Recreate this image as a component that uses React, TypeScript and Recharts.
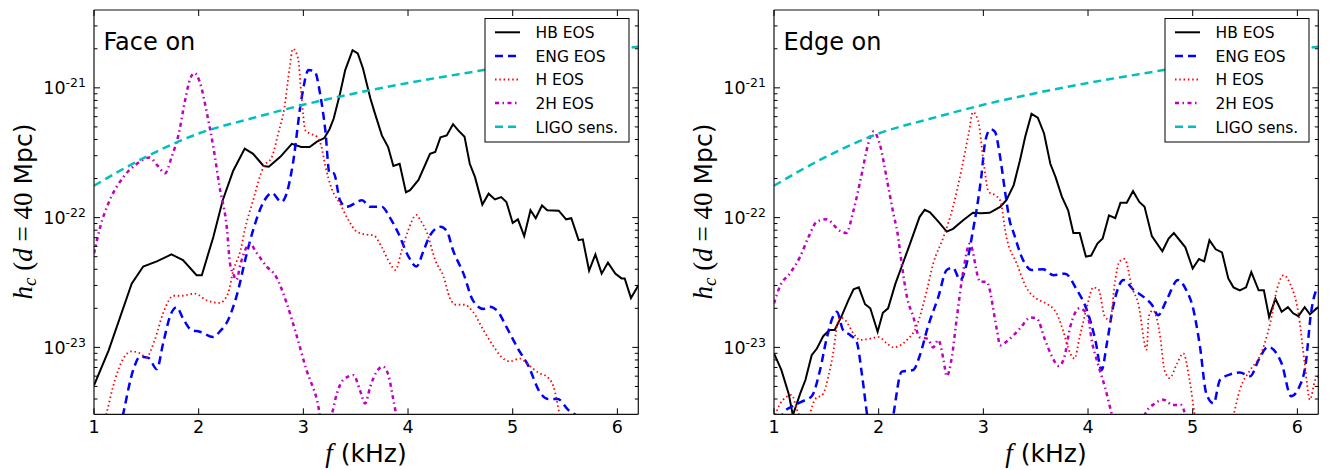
import React from 'react';
import { LineChart, Line, XAxis, YAxis } from 'recharts';

// frequency in kHz, characteristic strain h_c at d = 40 Mpc
const xTicks = [1, 2, 3, 4, 5, 6];
const yMajor = [1e-23, 1e-22, 1e-21];
const yDomain: [number, number] = [3.05e-24, 3.98e-21];

const ligoSens = [
  [1.0, 1.76e-22], [1.5, 2.95e-22], [2.0, 4.45e-22], [2.5, 5.8e-22], [3.0, 7.4e-22],
  [3.5, 9.1e-22], [4.0, 1.09e-21], [4.5, 1.28e-21], [5.0, 1.49e-21], [5.5, 1.72e-21],
  [6.0, 1.98e-21], [6.2, 2.08e-21],
];

const faceHB = [
  [1.0, 5.1e-24], [1.14, 9.5e-24], [1.36, 3.1e-23], [1.47, 4.2e-23], [1.6, 4.6e-23],
  [1.74, 5.2e-23], [1.85, 4.7e-23], [1.98, 3.6e-23], [2.03, 3.6e-23], [2.14, 7.1e-23],
  [2.23, 1.36e-22], [2.33, 2.3e-22], [2.44, 3.4e-22], [2.52, 3.1e-22], [2.62, 2.5e-22],
  [2.67, 2.47e-22], [2.78, 2.94e-22], [2.89, 3.7e-22], [2.98, 3.5e-22], [3.06, 3.5e-22],
  [3.13, 3.85e-22], [3.2, 4.1e-22], [3.25, 4.8e-22], [3.29, 5.8e-22], [3.35, 9.0e-22],
  [3.4, 1.37e-21], [3.47, 1.95e-21], [3.52, 1.84e-21], [3.57, 1.41e-21], [3.64, 8.3e-22],
  [3.68, 6.5e-22], [3.75, 4.3e-22], [3.81, 3.5e-22], [3.86, 2.5e-22], [3.92, 2.6e-22],
  [3.98, 1.57e-22], [4.02, 1.63e-22], [4.1, 1.95e-22], [4.21, 3.1e-22], [4.26, 3.2e-22],
  [4.31, 4.15e-22], [4.37, 4.3e-22], [4.43, 5.25e-22], [4.48, 4.7e-22], [4.54, 4.2e-22],
  [4.59, 2.6e-22], [4.64, 2.05e-22], [4.71, 1.26e-22], [4.77, 1.53e-22], [4.83, 1.38e-22],
  [4.89, 1.44e-22], [4.94, 1.32e-22], [5.0, 9.1e-23], [5.05, 9.7e-23], [5.11, 7.2e-23],
  [5.17, 1.14e-22], [5.22, 9.9e-23], [5.28, 1.24e-22], [5.33, 1.14e-22], [5.44, 1.13e-22],
  [5.51, 9.7e-23], [5.56, 9.9e-23], [5.63, 6.7e-23], [5.67, 6.8e-23], [5.73, 3.9e-23],
  [5.79, 5.2e-23], [5.85, 3.7e-23], [5.91, 4.5e-23], [5.98, 3.7e-23], [6.04, 3.4e-23],
  [6.07, 3.4e-23], [6.13, 2.4e-23], [6.2, 3.0e-23],
];

const faceENG = [
  [1.2, 1.5e-24], [1.28, 3.1e-24], [1.375, 6.7e-24], [1.44, 8.5e-24], [1.52, 8.3e-24],
  [1.6, 6.8e-24], [1.66, 1.07e-23], [1.73, 1.77e-23], [1.79, 2.04e-23], [1.85, 1.67e-23],
  [1.93, 1.36e-23], [2.01, 1.32e-23], [2.14, 1.2e-23], [2.2, 1.32e-23], [2.28, 1.62e-23],
  [2.36, 2.45e-23], [2.46, 5.3e-23], [2.52, 8.0e-23], [2.62, 1.32e-22], [2.7, 1.55e-22],
  [2.79, 1.32e-22], [2.84, 1.53e-22], [2.9, 2.6e-22], [2.98, 8.0e-22], [3.05, 1.37e-21],
  [3.11, 1.33e-21], [3.16, 9.0e-22], [3.21, 4.7e-22], [3.25, 2.2e-22], [3.29, 2.2e-22],
  [3.35, 1.36e-22], [3.41, 1.21e-22], [3.56, 1.36e-22], [3.64, 1.21e-22], [3.75, 1.21e-22],
  [3.83, 9.9e-23], [3.91, 7.5e-23], [4.0, 5.1e-23], [4.08, 4.2e-23], [4.15, 5.6e-23],
  [4.21, 7.3e-23], [4.31, 8.5e-23], [4.37, 7.9e-23], [4.43, 5.6e-23], [4.53, 3.7e-23],
  [4.62, 2.3e-23], [4.72, 1.98e-23], [4.78, 2.06e-23], [4.86, 1.88e-23], [4.94, 1.44e-23],
  [5.05, 9.8e-24], [5.15, 7.2e-24], [5.26, 4.5e-24], [5.34, 4.0e-24], [5.43, 4.0e-24],
  [5.53, 3.3e-24], [5.63, 2.9e-24], [5.8, 2.0e-24],
];

const faceH = [
  [1.05, 1.8e-24], [1.12, 3.1e-24], [1.2, 5.6e-24], [1.28, 8.2e-24], [1.36, 9.3e-24],
  [1.44, 9.0e-24], [1.5, 8.4e-24], [1.58, 1.14e-23], [1.66, 1.83e-23], [1.76, 2.5e-23],
  [1.84, 2.5e-23], [1.96, 2.6e-23], [2.08, 2.3e-23], [2.2, 2.2e-23], [2.28, 2.6e-23],
  [2.33, 3.9e-23], [2.4, 5.6e-23], [2.44, 8.0e-23], [2.52, 1.36e-22], [2.62, 2.47e-22],
  [2.7, 2.94e-22], [2.76, 4.45e-22], [2.82, 7.1e-22], [2.87, 1.45e-21], [2.9, 2.0e-21],
  [2.95, 1.68e-21], [2.98, 9.0e-22], [3.02, 4.7e-22], [3.06, 4.45e-22], [3.13, 4.2e-22],
  [3.17, 3.6e-22], [3.21, 2.5e-22], [3.27, 1.68e-22], [3.35, 1.28e-22], [3.43, 9.6e-23],
  [3.51, 7.8e-23], [3.6, 7.4e-23], [3.67, 7.3e-23], [3.75, 5.9e-23], [3.83, 4.4e-23],
  [3.88, 3.95e-23], [3.94, 5.6e-23], [4.0, 7.9e-23], [4.08, 1.05e-22], [4.12, 9.5e-23],
  [4.18, 7.7e-23], [4.26, 4.7e-23], [4.34, 3.5e-23], [4.4, 2.4e-23], [4.46, 2.13e-23],
  [4.54, 2.13e-23], [4.62, 1.88e-23], [4.72, 1.36e-23], [4.81, 1.04e-23], [4.89, 8.5e-24],
  [4.97, 7.8e-24], [5.07, 8.2e-24], [5.16, 7.2e-24], [5.26, 6.3e-24], [5.32, 6.0e-24],
  [5.39, 5.0e-24], [5.45, 3.0e-24], [5.55, 1.5e-24],
];

const face2H = [
  [1.0, 5.3e-23], [1.06, 8.5e-23], [1.15, 1.36e-22], [1.28, 2.05e-22], [1.41, 2.6e-22],
  [1.53, 2.9e-22], [1.61, 2.5e-22], [1.68, 2.2e-22], [1.74, 2.9e-22], [1.81, 4.45e-22],
  [1.87, 8.0e-22], [1.92, 1.18e-21], [1.96, 1.3e-21], [2.01, 1.11e-21], [2.08, 6.3e-22],
  [2.14, 3.5e-22], [2.2, 1.72e-22], [2.27, 8.2e-23], [2.3, 4.4e-23], [2.33, 3.7e-23],
  [2.36, 3.3e-23], [2.4, 4.4e-23], [2.49, 6.3e-23], [2.55, 5.4e-23], [2.65, 4.2e-23],
  [2.74, 3.5e-23], [2.84, 2.2e-23], [2.94, 1.2e-23], [3.03, 6.7e-24], [3.13, 3.95e-24],
  [3.2, 2.2e-24], [3.27, 3.0e-24], [3.32, 4.4e-24], [3.38, 5.6e-24], [3.48, 6.1e-24],
  [3.54, 4.7e-24], [3.59, 3.7e-24], [3.64, 5.0e-24], [3.7, 6.5e-24], [3.76, 7.1e-24],
  [3.81, 6.2e-24], [3.86, 3.95e-24], [3.95, 1.5e-24],
];

const edgeHB = [
  [1.0, 9.0e-24], [1.07, 6.7e-24], [1.14, 4.4e-24], [1.18, 3.0e-24], [1.25, 4.4e-24],
  [1.3, 5.6e-24], [1.36, 8.7e-24], [1.41, 9.8e-24], [1.47, 1.22e-23], [1.53, 1.36e-23],
  [1.58, 1.36e-23], [1.65, 1.77e-23], [1.71, 2.3e-23], [1.76, 2.8e-23], [1.81, 2.9e-23],
  [1.87, 2.15e-23], [1.92, 2.0e-23], [1.99, 1.32e-23], [2.04, 1.85e-23], [2.09, 2.0e-23],
  [2.16, 3.1e-23], [2.22, 4.2e-23], [2.3, 6.3e-23], [2.39, 1.01e-22], [2.44, 1.15e-22],
  [2.49, 1.1e-22], [2.57, 9.3e-23], [2.65, 7.8e-23], [2.71, 8.2e-23], [2.81, 9.6e-23],
  [2.9, 1.09e-22], [2.98, 1.08e-22], [3.06, 1.09e-22], [3.16, 1.21e-22], [3.22, 1.36e-22],
  [3.29, 1.78e-22], [3.35, 2.77e-22], [3.4, 4.2e-22], [3.46, 6.3e-22], [3.52, 5.9e-22],
  [3.58, 4.45e-22], [3.64, 2.6e-22], [3.69, 2.05e-22], [3.75, 1.45e-22], [3.81, 1.14e-22],
  [3.86, 7.6e-23], [3.92, 7.6e-23], [3.98, 5.0e-23], [4.03, 5.1e-23], [4.09, 6.3e-23],
  [4.14, 6.9e-23], [4.2, 1.04e-22], [4.26, 9.9e-23], [4.31, 1.3e-22], [4.37, 1.3e-22],
  [4.43, 1.6e-22], [4.49, 1.32e-22], [4.54, 1.21e-22], [4.61, 7.2e-23], [4.71, 5.5e-23],
  [4.77, 6.9e-23], [4.82, 7.6e-23], [4.93, 5.9e-23], [5.0, 4.05e-23], [5.06, 4.8e-23],
  [5.11, 4.6e-23], [5.16, 6.7e-23], [5.22, 5.7e-23], [5.28, 5.4e-23], [5.34, 3.4e-23],
  [5.39, 2.9e-23], [5.45, 2.75e-23], [5.51, 2.9e-23], [5.56, 3.8e-23], [5.63, 2.75e-23],
  [5.68, 2.75e-23], [5.73, 1.71e-23], [5.79, 2.37e-23], [5.85, 1.88e-23], [5.91, 2.04e-23],
  [5.96, 1.83e-23], [6.01, 1.74e-23], [6.07, 2.04e-23], [6.12, 1.8e-23], [6.2, 2.05e-23],
];

const edgeENG = [
  [1.0, 2.2e-24], [1.1, 3.2e-24], [1.17, 3.5e-24], [1.26, 3.8e-24], [1.36, 4.2e-24],
  [1.44, 6.7e-24], [1.5, 1.14e-23], [1.57, 1.77e-23], [1.6, 1.88e-23], [1.66, 1.36e-23],
  [1.73, 1.24e-23], [1.79, 1.1e-23], [1.84, 6.2e-24], [1.89, 3.0e-24], [1.95, 1.5e-24],
  [2.08, 1.5e-24], [2.14, 3.0e-24], [2.22, 6.5e-24], [2.33, 6.7e-24], [2.39, 8.5e-24],
  [2.47, 1.44e-23], [2.57, 2.45e-23], [2.65, 3.95e-23], [2.71, 4.1e-23], [2.78, 3.3e-23],
  [2.84, 4.4e-23], [2.9, 7.9e-23], [2.94, 1.21e-22], [2.98, 2.05e-22], [3.02, 3.95e-22],
  [3.07, 4.8e-22], [3.11, 4.6e-22], [3.16, 2.94e-22], [3.21, 1.53e-22], [3.25, 9.6e-23],
  [3.29, 7.6e-23], [3.38, 4.7e-23], [3.46, 3.95e-23], [3.57, 4.0e-23], [3.67, 3.6e-23],
  [3.78, 3.7e-23], [3.89, 2.8e-23], [3.99, 1.93e-23], [4.07, 1.14e-23], [4.13, 6.7e-24],
  [4.18, 1.07e-23], [4.24, 2.06e-23], [4.34, 3.3e-23], [4.43, 2.8e-23], [4.53, 2.45e-23],
  [4.61, 2.13e-23], [4.67, 1.77e-23], [4.75, 2.31e-23], [4.86, 3.3e-23], [4.94, 2.75e-23],
  [5.0, 2.06e-23], [5.07, 1.01e-23], [5.13, 4.4e-24], [5.2, 3.7e-24], [5.26, 5.6e-24],
  [5.36, 6.2e-24], [5.45, 6.4e-24], [5.55, 6.0e-24], [5.63, 8.0e-24], [5.72, 1.01e-23],
  [5.85, 7.5e-24], [5.94, 4.2e-24], [6.02, 5.0e-24], [6.08, 7.5e-24], [6.13, 1.83e-23],
  [6.18, 2.75e-23], [6.2, 2.9e-23],
];

const edgeH = [
  [1.0, 2.8e-24], [1.06, 3.7e-24], [1.17, 4.3e-24], [1.22, 3.3e-24], [1.3, 2.6e-24],
  [1.39, 3.95e-24], [1.47, 4.4e-24], [1.52, 6.0e-24], [1.57, 9.6e-24], [1.6, 1.44e-23],
  [1.63, 1.7e-23], [1.68, 1.62e-23], [1.76, 1.28e-23], [1.82, 1.14e-23], [1.9, 1.16e-23],
  [2.0, 1.2e-23], [2.08, 1.07e-23], [2.14, 1.0e-23], [2.27, 1.14e-23], [2.36, 1.44e-23],
  [2.46, 2.75e-23], [2.52, 4.4e-23], [2.62, 7.1e-23], [2.71, 1.21e-22], [2.79, 2.32e-22],
  [2.86, 4.45e-22], [2.9, 6.5e-22], [2.95, 5.6e-22], [3.0, 2.77e-22], [3.05, 1.58e-22],
  [3.11, 1.49e-22], [3.16, 1.36e-22], [3.22, 7.1e-23], [3.32, 4.4e-23], [3.41, 2.9e-23],
  [3.51, 2.37e-23], [3.6, 2.18e-23], [3.7, 1.83e-23], [3.76, 1.36e-23], [3.83, 9.0e-24],
  [3.87, 8.2e-24], [3.92, 1.2e-23], [3.99, 2.06e-23], [4.05, 2.9e-23], [4.1, 2.8e-23],
  [4.16, 1.73e-23], [4.21, 1.62e-23], [4.26, 3.3e-23], [4.3, 4.6e-23], [4.35, 4.8e-23],
  [4.42, 2.9e-23], [4.48, 2.18e-23], [4.56, 9.6e-24], [4.58, 1.73e-23], [4.62, 1.93e-23],
  [4.69, 1.2e-23], [4.73, 6.7e-24], [4.78, 5.8e-24], [4.85, 7.5e-24], [4.91, 9.0e-24],
  [4.97, 5.6e-24], [5.02, 3.0e-24], [5.1, 1.5e-24], [5.3, 1.5e-24], [5.39, 3.0e-24],
  [5.45, 4.7e-24], [5.55, 6.7e-24], [5.64, 8.5e-24], [5.74, 1.53e-23], [5.81, 2.9e-23],
  [5.87, 3.6e-23], [5.93, 3.1e-23], [6.01, 1.83e-23], [6.07, 7.5e-24], [6.12, 3.95e-24],
  [6.17, 5.6e-24], [6.2, 6.0e-24],
];

const edge2H = [
  [1.0, 2.18e-23], [1.06, 3.0e-23], [1.15, 3.7e-23], [1.25, 5.0e-23], [1.33, 7.1e-23],
  [1.41, 9.3e-23], [1.5, 9.7e-23], [1.63, 7.9e-23], [1.69, 7.6e-23], [1.76, 1.14e-22],
  [1.84, 2.2e-22], [1.9, 3.7e-22], [1.95, 4.6e-22], [2.01, 3.7e-22], [2.08, 1.94e-22],
  [2.14, 1.08e-22], [2.18, 7.6e-23], [2.22, 4.4e-23], [2.27, 2.45e-23], [2.33, 1.73e-23],
  [2.39, 1.2e-23], [2.47, 1.16e-23], [2.52, 1.0e-23], [2.57, 1.14e-23], [2.62, 8.0e-24],
  [2.65, 6.0e-24], [2.7, 8.5e-24], [2.74, 1.53e-23], [2.81, 3.95e-23], [2.87, 6.3e-23],
  [2.97, 3.2e-23], [3.03, 3.2e-23], [3.13, 1.36e-23], [3.16, 1.04e-23], [3.25, 1.16e-23],
  [3.35, 1.4e-23], [3.45, 1.7e-23], [3.51, 1.67e-23], [3.59, 1.14e-23], [3.65, 8.7e-24],
  [3.72, 7.2e-24], [3.77, 8.2e-24], [3.83, 1.44e-23], [3.92, 2.0e-23], [4.0, 1.73e-23],
  [4.03, 1.2e-23], [4.1, 7.2e-24], [4.16, 5.0e-24], [4.23, 3.0e-24], [4.35, 1.5e-24],
  [4.5, 1.8e-24], [4.54, 3.0e-24], [4.64, 3.7e-24], [4.72, 3.95e-24], [4.81, 3.6e-24],
  [4.89, 3.6e-24], [4.93, 3.0e-24], [5.0, 1.5e-24],
];

const legendNames = ['HB EOS', 'ENG EOS', 'H EOS', '2H EOS', 'LIGO sens.'];

const styles = [
  { stroke: '#000000', width: 2, dash: undefined as string | undefined, type: 'linear' },
  { stroke: '#0000ff', width: 2.5, dash: '8 5', type: 'monotone' },
  { stroke: '#ff0000', width: 1.8, dash: '1.5 2.8', type: 'monotone' },
  { stroke: '#bf00bf', width: 2.5, dash: '4 3.5 1.5 3.5', type: 'monotone' },
  { stroke: '#00bfbf', width: 2.5, dash: '8 5', type: 'monotone' },
];

const minorTicks: number[] = [];
for (let e = -24; e <= -21; e++) {
  for (let m = 1; m < 10; m++) {
    const v = Number((m * Math.pow(10, e)).toPrecision(3));
    if (v >= yDomain[0] && v <= yDomain[1]) minorTicks.push(v);
  }
}

const FONT = '"DejaVu Sans", sans-serif';
const SERIF = '"Liberation Serif", serif';

const isMajor = (v: number) => yMajor.some((m) => Math.abs(v / m - 1) < 1e-6);

const pts = (arr: number[][]) => arr.map(([f, h]) => ({ f, h }));

function LeftTick(props: any) {
  const { x, y, payload } = props;
  const v = payload.value;
  const major = isMajor(v);
  const exp = Math.round(Math.log10(v));
  return (
    <g>
      <line x1={x} y1={y} x2={x + (major ? 6 : 3.5)} y2={y} stroke="#000" strokeWidth={1} />
      {major && (
        <text x={x - 8} y={y + 6.5} textAnchor="end" fontFamily={FONT} fontSize={17.5} fill="#000">
          10
          <tspan dy={-7} fontSize={12.5}>{`-${Math.abs(exp)}`}</tspan>
        </text>
      )}
    </g>
  );
}

function RightTick(props: any) {
  const { x, y, payload } = props;
  const major = isMajor(payload.value);
  return <line x1={x} y1={y} x2={x - (major ? 6 : 3.5)} y2={y} stroke="#000" strokeWidth={1} />;
}

function BottomTick(props: any) {
  const { x, y, payload } = props;
  return (
    <g>
      <line x1={x} y1={y} x2={x} y2={y - 6} stroke="#000" strokeWidth={1} />
      <text x={x} y={y + 19} textAnchor="middle" fontFamily={FONT} fontSize={17.5} fill="#000">
        {payload.value}
      </text>
    </g>
  );
}

function TopTick(props: any) {
  const { x, y } = props;
  return <line x1={x} y1={y} x2={x} y2={y + 6} stroke="#000" strokeWidth={1} />;
}

function Panel({ left, width, title, series }: { left: number; width: number; title: string; series: number[][][] }) {
  const plotLeft = 94;
  const plotRight = 638.3;
  const plotTop = 10;
  const plotBottom = 414.3;
  const axisStroke = { stroke: '#111', strokeWidth: 1.2 };
  return (
    <div style={{ position: 'absolute', left, top: 0, width, height: 470 }}>
      <LineChart
        width={width}
        height={470}
        margin={{ top: plotTop - 1, right: width - plotRight - 1, bottom: 470 - plotBottom - 30, left: 0 }}
      >
        <XAxis
          xAxisId="b"
          dataKey="f"
          type="number"
          domain={[1, 6.2]}
          ticks={xTicks}
          allowDataOverflow
          height={30}
          tickLine={false}
          tickSize={0}
          tickMargin={0}
          interval={0}
          axisLine={axisStroke}
          tick={<BottomTick />}
        />
        <XAxis
          xAxisId="t"
          orientation="top"
          dataKey="f"
          type="number"
          domain={[1, 6.2]}
          ticks={xTicks}
          allowDataOverflow
          height={1}
          tickLine={false}
          tickSize={0}
          tickMargin={0}
          interval={0}
          axisLine={axisStroke}
          tick={<TopTick />}
        />
        <YAxis
          yAxisId="l"
          type="number"
          scale="log"
          domain={yDomain}
          ticks={minorTicks}
          allowDataOverflow
          width={plotLeft}
          tickLine={false}
          tickSize={0}
          tickMargin={0}
          interval={0}
          axisLine={axisStroke}
          tick={<LeftTick />}
        />
        <YAxis
          yAxisId="r"
          orientation="right"
          type="number"
          scale="log"
          domain={yDomain}
          ticks={minorTicks}
          allowDataOverflow
          width={1}
          tickLine={false}
          tickSize={0}
          tickMargin={0}
          interval={0}
          axisLine={axisStroke}
          tick={<RightTick />}
        />
        {series.map((s, i) => (
          <Line
            key={i}
            xAxisId="b"
            yAxisId="l"
            data={pts(s)}
            dataKey="h"
            name={legendNames[i]}
            type={styles[i].type as any}
            stroke={styles[i].stroke}
            strokeWidth={styles[i].width}
            strokeDasharray={styles[i].dash}
            dot={false}
            activeDot={false}
            isAnimationActive={false}
          />
        ))}
      </LineChart>
      <svg
        width={width}
        height={470}
        style={{ position: 'absolute', left: 0, top: 0, pointerEvents: 'none', whiteSpace: 'pre' }}
      >
        <text x={103.5} y={50} fontFamily={FONT} fontSize={24} fill="#000">
          {title}
        </text>
        <text x={366} y={462} textAnchor="middle" fontSize={27} fill="#000">
          <tspan fontFamily={SERIF} fontStyle="italic">f</tspan>
          <tspan fontFamily={FONT} fontSize={25}>{' (kHz)'}</tspan>
        </text>
        <text transform="translate(32, 211.5) rotate(-90)" textAnchor="middle" fontSize={27} fill="#000">
          <tspan fontFamily={SERIF} fontStyle="italic">h</tspan>
          <tspan fontFamily={SERIF} fontStyle="italic" fontSize={19} dy={4}>c</tspan>
          <tspan fontFamily={SERIF} dy={-4}>{'  ('}</tspan>
          <tspan fontFamily={SERIF} fontStyle="italic">d</tspan>
          <tspan fontFamily={SERIF}>{' = 40'}</tspan>
          <tspan fontFamily={FONT} fontSize={25}>{' Mpc)'}</tspan>
        </text>
        <g transform="translate(484.5, 18)">
          <rect x={0.5} y={0.5} width={144} height={123.5} fill="#fff" stroke="#000" strokeWidth={1} />
          {legendNames.map((name, i) => {
            const cy = 14.3 + i * 23.6;
            return (
              <g key={name}>
                <line
                  x1={10.5}
                  x2={35.5}
                  y1={cy}
                  y2={cy}
                  stroke={styles[i].stroke}
                  strokeWidth={styles[i].width}
                  strokeDasharray={styles[i].dash}
                />
                <text x={51} y={cy + 5.8} fontFamily={FONT} fontSize={15.5} fill="#000">
                  {name}
                </text>
              </g>
            );
          })}
        </g>
      </svg>
    </div>
  );
}

export default function App() {
  return (
    <div style={{ position: 'absolute', left: 0, top: 0, width: 1341, height: 470, background: '#fff' }}>
      <Panel left={0} width={680} title="Face on" series={[faceHB, faceENG, faceH, face2H, ligoSens]} />
      <Panel left={680} width={661} title="Edge on" series={[edgeHB, edgeENG, edgeH, edge2H, ligoSens]} />
    </div>
  );
}
